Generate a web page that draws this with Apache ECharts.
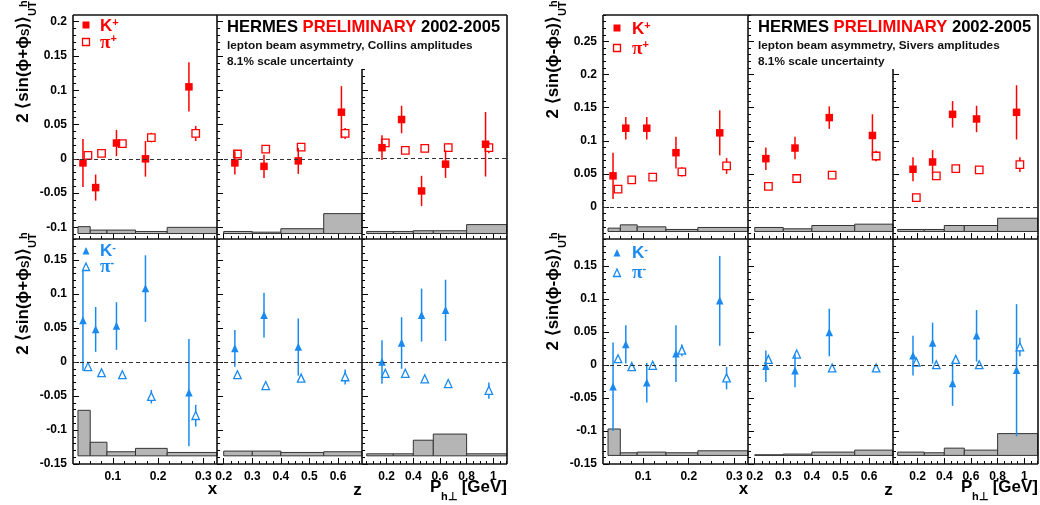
<!DOCTYPE html>
<html><head><meta charset="utf-8">
<script src="https://cdn.jsdelivr.net/npm/echarts@6/dist/echarts.min.js"></script>
<style>html,body{margin:0;padding:0;background:#fff}#c{width:1040px;height:505px}</style>
</head><body><div id="c"></div>
<script>
// ---------------- DATA ----------------
// axis tick labels
const xTickLabels = [0.1, 0.2, 0.3];
const zTickLabels = [0.2, 0.3, 0.4, 0.5, 0.6];
const ptTickLabels = [0.2, 0.4, 0.6, 0.8, 1.0];
const yTicksCollinsTop = [-0.1, -0.05, 0, 0.05, 0.1, 0.15, 0.2];
const yTicksSiversTop = [0, 0.05, 0.1, 0.15, 0.2, 0.25];
const yTicksBottom = [-0.15, -0.1, -0.05, 0, 0.05, 0.1, 0.15];

// kinematic bins (systematic band histograms)
const xBinEdges = [0.023, 0.05, 0.087, 0.15, 0.22, 0.4];
const zBinEdges = [0.2, 0.3, 0.4, 0.55, 0.7];
const ptBinEdges = [0.05, 0.25, 0.4, 0.55, 0.8, 1.1];

// mean kinematics of the points
const xMeanK = [0.034, 0.062, 0.108, 0.172, 0.268];
const xMeanPi = [0.045, 0.075, 0.121, 0.185, 0.283];
const zMeanK = [0.239, 0.341, 0.461, 0.612];
const zMeanPi = [0.248, 0.347, 0.471, 0.625];
const ptMeanK = [0.165, 0.312, 0.462, 0.642, 0.942];
const ptMeanPi = [0.19, 0.34, 0.486, 0.662, 0.967];

// Collins amplitudes
const collinsKplusX = [-0.006, -0.042, 0.023, 0.000, 0.105];
const collinsKplusXErr = [0.035, 0.019, 0.019, 0.026, 0.036];
const collinsPiplusX = [0.005, 0.008, 0.022, 0.031, 0.037];
const collinsPiplusXErr = [0.004, 0.004, 0.004, 0.007, 0.011];
const collinsKplusZ = [-0.006, -0.011, -0.003, 0.068];
const collinsKplusZErr = [0.017, 0.017, 0.019, 0.038];
const collinsPiplusZ = [0.007, 0.014, 0.017, 0.037];
const collinsPiplusZErr = [0.004, 0.004, 0.005, 0.008];
const collinsKplusPt = [0.016, 0.057, -0.047, -0.008, 0.021];
const collinsKplusPtErr = [0.018, 0.020, 0.022, 0.020, 0.047];
const collinsPiplusPt = [0.023, 0.012, 0.015, 0.016, 0.016];
const collinsPiplusPtErr = [0.004, 0.004, 0.004, 0.006, 0.008];
const collinsKminusX = [0.061, 0.048, 0.053, 0.108, -0.045];
const collinsKminusXErr = [0.074, 0.033, 0.035, 0.049, 0.079];
const collinsPiminusX = [-0.007, -0.016, -0.019, -0.051, -0.079];
const collinsPiminusXErr = [0.004, 0.004, 0.004, 0.010, 0.016];
const collinsKminusZ = [0.020, 0.069, 0.022];
const collinsKminusZErr = [0.027, 0.033, 0.042];
const collinsPiminusZ = [-0.019, -0.035, -0.024, -0.022];
const collinsPiminusZErr = [0.004, 0.004, 0.005, 0.011];
const collinsKminusPt = [0.000, 0.028, 0.069, 0.076];
const collinsKminusPtErr = [0.032, 0.038, 0.039, 0.045];
const collinsPiminusPt = [-0.017, -0.017, -0.025, -0.032, -0.042];
const collinsPiminusPtErr = [0.004, 0.004, 0.004, 0.005, 0.012];

// Sivers amplitudes
const siversKplusX = [0.047, 0.119, 0.119, 0.082, 0.112];
const siversKplusXErr = [0.035, 0.017, 0.017, 0.024, 0.034];
const siversPiplusX = [0.027, 0.041, 0.045, 0.053, 0.062];
const siversPiplusXErr = [0.006, 0.004, 0.004, 0.007, 0.012];
const siversKplusZ = [0.073, 0.089, 0.135, 0.108];
const siversKplusZErr = [0.017, 0.017, 0.017, 0.032];
const siversPiplusZ = [0.031, 0.043, 0.048, 0.077];
const siversPiplusZErr = [0.004, 0.004, 0.004, 0.008];
const siversKplusPt = [0.057, 0.068, 0.140, 0.133, 0.143];
const siversKplusPtErr = [0.018, 0.018, 0.020, 0.020, 0.041];
const siversPiplusPt = [0.014, 0.047, 0.058, 0.056, 0.064];
const siversPiplusPtErr = [0.004, 0.004, 0.004, 0.004, 0.011];
const siversKminusX = [-0.033, 0.031, -0.027, 0.017, 0.097];
const siversKminusXErr = [0.067, 0.029, 0.030, 0.043, 0.068];
const siversPiminusX = [0.009, -0.003, -0.001, 0.022, -0.020];
const siversPiminusXErr = [0.004, 0.004, 0.004, 0.009, 0.017];
const siversKminusZ = [-0.002, -0.009, 0.049];
const siversKminusZErr = [0.024, 0.025, 0.036];
const siversPiminusZ = [0.008, 0.016, -0.005, -0.005];
const siversPiminusZErr = [0.004, 0.004, 0.004, 0.006];
const siversKminusPt = [0.014, 0.033, -0.028, 0.044, -0.008];
const siversKminusPtErr = [0.030, 0.031, 0.034, 0.039, 0.100];
const siversPiminusPt = [0.004, 0.000, 0.008, 0.000, 0.027];
const siversPiminusPtErr = [0.004, 0.004, 0.004, 0.004, 0.014];

// systematic bands: baseline and top of each bin
const collinsBandBaseTop = -0.109;
const collinsBandBaseBottom = -0.138;
const siversBandBaseTop = -0.037;
const siversBandBaseBottom = -0.137;
const collinsBandPlusX = [-0.099, -0.104, -0.104, -0.106, -0.100];
const collinsBandPlusZ = [-0.106, -0.107, -0.102, -0.080];
const collinsBandPlusPt = [-0.106, -0.106, -0.105, -0.105, -0.096];
const collinsBandMinusX = [-0.071, -0.118, -0.132, -0.127, -0.133];
const collinsBandMinusZ = [-0.131, -0.131, -0.133, -0.132];
const collinsBandMinusPt = [-0.135, -0.135, -0.115, -0.106, -0.135];
const siversBandPlusX = [-0.032, -0.027, -0.030, -0.034, -0.031];
const siversBandPlusZ = [-0.031, -0.033, -0.028, -0.026];
const siversBandPlusPt = [-0.034, -0.034, -0.028, -0.028, -0.017];
const siversBandMinusX = [-0.097, -0.133, -0.132, -0.133, -0.130];
const siversBandMinusZ = [-0.136, -0.135, -0.132, -0.129];
const siversBandMinusPt = [-0.132, -0.133, -0.126, -0.129, -0.104];

// ---------------- LAYOUT / STYLE ----------------
const FONT = 'Liberation Sans';
const RED = '#ff0000';
const BLUE = '#1a8af0';
const FRAME = '#111';

const X_RANGE = [0.012, 0.33], Z_RANGE = [0.1765, 0.684], PT_RANGE = [0.015, 1.103];
const COLS = [
  {range: X_RANGE, labels: xTickLabels, minor: 0.025, bins: xBinEdges, kx: xMeanK, px: xMeanPi},
  {range: Z_RANGE, labels: zTickLabels, minor: 0.025, bins: zBinEdges, kx: zMeanK, px: zMeanPi},
  {range: PT_RANGE, labels: ptTickLabels, minor: 0.05, bins: ptBinEdges, kx: ptMeanK, px: ptMeanPi}
];
const T = 15, M = 239, B = 464, T3 = 69;

const PANELS = [
  { L: 73, c1: 217, c2: 362, R: 507, sign: '+', label: 'Collins',
    top: {range: [-0.117, 0.2098], col3max: 0.1306, ticks: yTicksCollinsTop, base: collinsBandBaseTop,
      k: [[collinsKplusX, collinsKplusXErr], [collinsKplusZ, collinsKplusZErr], [collinsKplusPt, collinsKplusPtErr]],
      p: [[collinsPiplusX, collinsPiplusXErr], [collinsPiplusZ, collinsPiplusZErr], [collinsPiplusPt, collinsPiplusPtErr]],
      band: [collinsBandPlusX, collinsBandPlusZ, collinsBandPlusPt]},
    bot: {range: [-0.15, 0.181], ticks: yTicksBottom, base: collinsBandBaseBottom,
      k: [[collinsKminusX, collinsKminusXErr], [collinsKminusZ, collinsKminusZErr], [collinsKminusPt, collinsKminusPtErr]],
      p: [[collinsPiminusX, collinsPiminusXErr], [collinsPiminusZ, collinsPiminusZErr], [collinsPiminusPt, collinsPiminusPtErr]],
      band: [collinsBandMinusX, collinsBandMinusZ, collinsBandMinusPt]},
    legTop: {mx: 86, y1: 25, y2: 42, tx: 100}, legBot: {mx: 86, y1: 251, y2: 267, tx: 100},
    title: {cx: 23, yTop: 16, yBot: 248}
  },
  { L: 603, c1: 748, c2: 893, R: 1038, sign: '-', label: 'Sivers',
    top: {range: [-0.0484, 0.290], col3max: 0.2085, ticks: yTicksSiversTop, base: siversBandBaseTop,
      k: [[siversKplusX, siversKplusXErr], [siversKplusZ, siversKplusZErr], [siversKplusPt, siversKplusPtErr]],
      p: [[siversPiplusX, siversPiplusXErr], [siversPiplusZ, siversPiplusZErr], [siversPiplusPt, siversPiplusPtErr]],
      band: [siversBandPlusX, siversBandPlusZ, siversBandPlusPt]},
    bot: {range: [-0.15, 0.1906], ticks: yTicksBottom, base: siversBandBaseBottom,
      k: [[siversKminusX, siversKminusXErr], [siversKminusZ, siversKminusZErr], [siversKminusPt, siversKminusPtErr]],
      p: [[siversPiminusX, siversPiminusXErr], [siversPiminusZ, siversPiminusZErr], [siversPiminusPt, siversPiminusPtErr]],
      band: [siversBandMinusX, siversBandMinusZ, siversBandMinusPt]},
    legTop: {mx: 617, y1: 28, y2: 48, tx: 632}, legBot: {mx: 617, y1: 253, y2: 273, tx: 632},
    title: {cx: 553, yTop: 16, yBot: 248}
  }
];

// ---------------- BUILD ----------------
const grids = [], xAxes = [], yAxes = [], series = [], gfx = [];
const fmt = v => String(Math.round(v * 1000) / 1000);
function minorTicks(r, step) {
  const out = [];
  for (let k = Math.ceil(r[0] / step - 1e-9); k * step <= r[1] + 1e-9; k++) out.push(+(k * step).toFixed(5));
  return out;
}
const inR = (arr, r) => arr.filter(v => v >= r[0] - 1e-9 && v <= r[1] + 1e-9);
const labelStyle = {color: '#000', fontSize: 12, fontWeight: 'bold', fontFamily: FONT};

function addCell(l, t, w, h, xr, xMaj, xStep, yr, yMaj, yStep, showX, showY) {
  const g = grids.length;
  grids.push({left: l, top: t, width: w, height: h, containLabel: false, outerBoundsMode: 'none', show: false});
  const bx = {type: 'value', gridIndex: g, min: xr[0], max: xr[1], position: 'bottom',
    axisLine: {show: false, onZero: false}, splitLine: {show: false}, splitArea: {show: false}};
  xAxes.push(Object.assign({}, bx, {
    axisTick: {show: true, inside: true, length: 6, customValues: inR(xMaj, xr), lineStyle: {color: '#000', width: 1}},
    axisLabel: Object.assign({show: showX, customValues: inR(xMaj, xr), margin: 7, formatter: fmt}, labelStyle)}));
  xAxes.push(Object.assign({}, bx, {
    axisTick: {show: true, inside: true, length: 3, customValues: minorTicks(xr, xStep), lineStyle: {color: '#000', width: 1}},
    axisLabel: {show: false}}));
  const by = {type: 'value', gridIndex: g, min: yr[0], max: yr[1], position: 'left',
    axisLine: {show: false, onZero: false}, splitLine: {show: false}, splitArea: {show: false}};
  yAxes.push(Object.assign({}, by, {
    axisTick: {show: true, inside: true, length: 6, customValues: inR(yMaj, yr), lineStyle: {color: '#000', width: 1}},
    axisLabel: Object.assign({show: showY, customValues: inR(yMaj, yr), margin: 6, formatter: fmt}, labelStyle)}));
  yAxes.push(Object.assign({}, by, {
    axisTick: {show: true, inside: true, length: 3, customValues: minorTicks(yr, yStep), lineStyle: {color: '#000', width: 1}},
    axisLabel: {show: false}}));
  return 2 * g;
}

function bandSeries(ai, edges, tops, base) {
  const data = tops.map((v, i) => [edges[i], edges[i + 1], v]);
  return {
    type: 'custom', xAxisIndex: ai, yAxisIndex: ai, data, silent: true, z: 1,
    encode: {x: [0, 1], y: 2},
    renderItem: (params, api) => {
      const p0 = api.coord([api.value(0), base]);
      const p1 = api.coord([api.value(1), api.value(2)]);
      const cs = params.coordSys;
      const r = echarts.graphic.clipRectByRect(
        {x: p0[0], y: p1[1], width: p1[0] - p0[0], height: p0[1] - p1[1]},
        {x: cs.x, y: cs.y, width: cs.width, height: cs.height});
      return r && {type: 'rect', shape: r, style: {fill: '#b5b5b5', stroke: '#333', lineWidth: 1}};
    },
    markLine: {silent: true, symbol: ['none', 'none'], label: {show: false}, animation: false,
      lineStyle: {type: [4, 3], color: '#333', width: 1}, data: [{yAxis: 0}]}
  };
}

function pointSeries(ai, xs, ys, es, color, shape, filled) {
  const data = ys.map((v, i) => [xs[i], v, es[i]]);
  return {
    type: 'custom', xAxisIndex: ai, yAxisIndex: ai, data, silent: true, z: filled ? 4 : 3,
    encode: {x: 0, y: 1},
    renderItem: (params, api) => {
      const x = api.value(0), y = api.value(1), e = api.value(2);
      const c = api.coord([x, y]), lo = api.coord([x, y - e]), hi = api.coord([x, y + e]);
      const s = 7.5, h = s / 2;
      const st = filled ? {fill: color} : {fill: '#fff', stroke: color, lineWidth: 1.3};
      const mk = shape === 'square'
        ? {type: 'rect', shape: {x: c[0] - h, y: c[1] - h, width: s, height: s}, style: st}
        : {type: 'polygon', shape: {points: [[c[0], c[1] - h - 0.5], [c[0] + h, c[1] + h], [c[0] - h, c[1] + h]]}, style: st};
      return {type: 'group', children: [
        {type: 'line', shape: {x1: c[0], y1: lo[1], x2: c[0], y2: hi[1]}, style: {stroke: color, lineWidth: 1.5}},
        mk]};
    }
  };
}

PANELS.forEach(P => {
  const colX = [[P.L, P.c1], [P.c1, P.c2], [P.c2, P.R]];
  [['top', P.top], ['bot', P.bot]].forEach(([rowName, row]) => {
    const color = rowName === 'top' ? RED : BLUE;
    const shape = rowName === 'top' ? 'square' : 'triangle';
    COLS.forEach((C, ci) => {
      let t, h, yr;
      if (rowName === 'top') {
        t = ci === 2 ? T3 : T; h = M - t;
        yr = [row.range[0], ci === 2 ? row.col3max : row.range[1]];
      } else { t = M; h = B - M; yr = row.range; }
      const ai = addCell(colX[ci][0], t, colX[ci][1] - colX[ci][0], h, C.range, C.labels, C.minor,
        yr, row.ticks, 0.01, rowName === 'bot', ci === 0);
      series.push(bandSeries(ai, C.bins, row.band[ci], row.base));
      const [pv, pe] = row.p[ci];
      series.push(pointSeries(ai, C.px, pv, pe, color, shape, false));
      const [kv, ke] = row.k[ci];
      series.push(pointSeries(ai, C.kx, kv, ke, color, shape, true));
    });
  });

  // frames
  const segs = [[P.L, T, P.R, T], [P.L, M, P.R, M], [P.L, B, P.R, B],
    [P.L, T, P.L, B], [P.c1, T, P.c1, B], [P.c2, T3, P.c2, B], [P.R, T, P.R, B]];
  segs.forEach(s => gfx.push({type: 'line', z: 100, silent: true,
    shape: {x1: s[0], y1: s[1], x2: s[2], y2: s[3]}, style: {stroke: FRAME, lineWidth: 1.6}}));

  // header text
  const tx = P.c1 + 10;
  gfx.push({type: 'text', x: tx, y: 27, z: 100, style: {
    text: '{b|HERMES }{r|PRELIMINARY}{b| 2002-2005}', verticalAlign: 'middle', textVerticalAlign: 'middle',
    rich: {b: {fontSize: 16.6, fontWeight: 'bold', fontFamily: FONT, fill: '#000', color: '#000'},
           r: {fontSize: 16.6, fontWeight: 'bold', fontFamily: FONT, fill: RED, color: RED}}}});
  gfx.push({type: 'text', x: tx, y: 45.5, z: 100, style: {
    text: 'lepton beam asymmetry, ' + P.label + ' amplitudes', fontSize: 11.8, fontWeight: 'bold', fontFamily: FONT,
    fill: '#111', verticalAlign: 'middle', textVerticalAlign: 'middle'}});
  gfx.push({type: 'text', x: tx, y: 62, z: 100, style: {
    text: '8.1% scale uncertainty', fontSize: 11.8, fontWeight: 'bold', fontFamily: FONT,
    fill: '#111', verticalAlign: 'middle', textVerticalAlign: 'middle'}});

  // legends
  const legRich = (c) => ({
    k: {fontSize: 17, fontWeight: 'bold', fontFamily: FONT, fill: c, color: c},
    p: {fontSize: 19, fontWeight: 'bold', fontFamily: 'Liberation Serif', fill: c, color: c},
    s: {fontSize: 11, fontWeight: 'bold', fontFamily: FONT, fill: c, color: c, verticalAlign: 'top'}});
  const LT = P.legTop, LB = P.legBot;
  gfx.push({type: 'rect', z: 100, shape: {x: LT.mx - 3.5, y: LT.y1 - 3.5, width: 7, height: 7}, style: {fill: RED}});
  gfx.push({type: 'rect', z: 100, shape: {x: LT.mx - 3.5, y: LT.y2 - 3.5, width: 7, height: 7}, style: {fill: '#fff', stroke: RED, lineWidth: 1.3}});
  gfx.push({type: 'text', z: 100, x: LT.tx, y: LT.y1 + 1, style: {text: '{k|K}{s|+}', verticalAlign: 'middle', textVerticalAlign: 'middle', rich: legRich(RED)}});
  gfx.push({type: 'text', z: 100, x: LT.tx, y: LT.y2 + 1, style: {text: '{p|\u03c0}{s|+}', verticalAlign: 'middle', textVerticalAlign: 'middle', rich: legRich(RED)}});
  const tri = (cx, cy) => [[cx, cy - 4], [cx + 3.5, cy + 3.5], [cx - 3.5, cy + 3.5]];
  gfx.push({type: 'polygon', z: 100, shape: {points: tri(LB.mx, LB.y1)}, style: {fill: BLUE}});
  gfx.push({type: 'polygon', z: 100, shape: {points: tri(LB.mx, LB.y2)}, style: {fill: '#fff', stroke: BLUE, lineWidth: 1.3}});
  gfx.push({type: 'text', z: 100, x: LB.tx, y: LB.y1, style: {text: '{k|K}{s|-}', verticalAlign: 'middle', textVerticalAlign: 'middle', rich: legRich(BLUE)}});
  gfx.push({type: 'text', z: 100, x: LB.tx, y: LB.y2, style: {text: '{p|\u03c0}{s|-}', verticalAlign: 'middle', textVerticalAlign: 'middle', rich: legRich(BLUE)}});

  // y titles (rotated)
  const yTitle = (yEnd) => ({type: 'group', x: P.title.cx, y: yEnd, rotation: Math.PI / 2, z: 100, children: [
    {type: 'text', x: 0, y: 0, style: {text: '{m|2 \u27e8sin(\u03d5' + P.sign + '\u03d5}{s|S}{m|)\u27e9}',
      align: 'right', textAlign: 'right', verticalAlign: 'middle', textVerticalAlign: 'middle',
      rich: {m: {fontSize: 17, fontWeight: 'bold', fontFamily: FONT, fill: '#000', color: '#000'},
             s: {fontSize: 11, fontWeight: 'bold', fontFamily: FONT, fill: '#000', color: '#000', verticalAlign: 'bottom'}}}},
    {type: 'text', x: 0, y: 10, style: {text: 'UT', fontSize: 11, fontWeight: 'bold', fontFamily: FONT, fill: '#000',
      align: 'left', textAlign: 'left', verticalAlign: 'middle', textVerticalAlign: 'middle'}},
    {type: 'text', x: 9, y: 1, style: {text: 'h', fontSize: 11, fontWeight: 'bold', fontFamily: FONT, fill: '#000',
      align: 'left', textAlign: 'left', verticalAlign: 'middle', textVerticalAlign: 'middle'}}
  ]});
  gfx.push(yTitle(P.title.yTop));
  gfx.push(yTitle(P.title.yBot));

  // x titles
  const axTitle = {fontSize: 17, fontWeight: 'bold', fontFamily: FONT, fill: '#000', align: 'center', textAlign: 'center', verticalAlign: 'middle', textVerticalAlign: 'middle'};
  gfx.push({type: 'text', z: 100, x: P.c1 - 4.5, y: 489.5, style: Object.assign({text: 'x'}, axTitle)});
  gfx.push({type: 'text', z: 100, x: P.c2 - 4.5, y: 490.5, style: Object.assign({text: 'z'}, axTitle)});
  gfx.push({type: 'text', z: 100, x: P.R - 77, y: 487.5, style: Object.assign({}, axTitle, {text: 'P', align: 'left', textAlign: 'left'})});
  gfx.push({type: 'text', z: 100, x: P.R - 66, y: 497, style: Object.assign({}, axTitle, {text: 'h\u22a5', fontSize: 11, align: 'left', textAlign: 'left'})});
  gfx.push({type: 'text', z: 100, x: P.R, y: 487.5, style: Object.assign({}, axTitle, {text: '[GeV]', align: 'right', textAlign: 'right'})});
});

const chart = echarts.init(document.getElementById('c'), null, {renderer: 'canvas'});
chart.setOption({
  animation: false, backgroundColor: '#fff',
  grid: grids, xAxis: xAxes, yAxis: yAxes, series: series,
  graphic: {elements: gfx}
});
</script></body></html>
